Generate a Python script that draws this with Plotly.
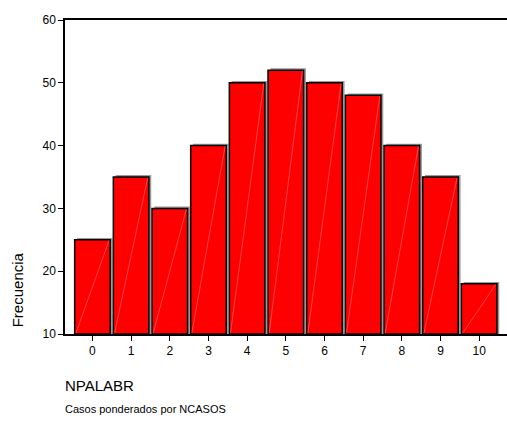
import plotly.graph_objects as go

# Word count per case (NPALABR) and weighted frequencies
categorias = [0, 1, 2, 3, 4, 5, 6, 7, 8, 9, 10]
frecuencias = [25, 35, 30, 40, 50, 52, 50, 48, 40, 35, 18]
etiquetas_x = [str(c) for c in categorias]
ticks_y = [10, 20, 30, 40, 50, 60]

base = 10
ancho = 0.92
FUENTE = "Liberation Sans, Arial, sans-serif"

fig = go.Figure()

# gray drop shadow behind each bar
fig.add_trace(go.Bar(
    x=categorias,
    y=[v - base + 0.3 for v in frecuencias],
    base=base,
    width=ancho,
    offset=-ancho / 2 + 0.06,
    marker=dict(color="#9a9a9a", line=dict(width=0)),
    hoverinfo="skip",
    showlegend=False,
))

# red bars with black outline
fig.add_trace(go.Bar(
    x=categorias,
    y=[v - base for v in frecuencias],
    base=base,
    width=ancho,
    offset=-ancho / 2,
    marker=dict(color="#ff0000", line=dict(color="black", width=1.5)),
    showlegend=False,
))

# faint diagonal hatch inside each bar (corner to corner)
hx, hy = [], []
for c, v in zip(categorias, frecuencias):
    hx += [c - ancho / 2 + 0.03, c + ancho / 2 - 0.03, None]
    hy += [base + 0.1, v - 0.1, None]
fig.add_trace(go.Scatter(
    x=hx, y=hy, mode="lines",
    line=dict(color="rgba(255,170,170,0.4)", width=1),
    hoverinfo="skip", showlegend=False,
))

fig.update_layout(
    width=507, height=426,
    margin=dict(l=65, r=0, t=20, b=92),
    plot_bgcolor="white", paper_bgcolor="white",
    barmode="overlay",
    font=dict(family=FUENTE, color="black", size=12),
    xaxis=dict(
        range=[-0.71, 10.72],
        tickmode="array", tickvals=categorias, ticktext=etiquetas_x,
        showline=True, linecolor="black", linewidth=1.5, mirror=True,
        ticks="outside", ticklen=5, tickcolor="black", tickwidth=1,
        showgrid=False, zeroline=False,
        tickfont=dict(size=12, family=FUENTE, color="black"),
    ),
    yaxis=dict(
        range=[10, 60],
        tickmode="array", tickvals=ticks_y,
        showline=True, linecolor="black", linewidth=1.5,
        ticks="outside", ticklen=5, tickcolor="black", tickwidth=1,
        showgrid=False, zeroline=False,
        tickfont=dict(size=12, family=FUENTE, color="black"),
    ),
    annotations=[
        dict(text="Frecuencia", xref="paper", yref="paper",
             x=-0.108, y=0.14, textangle=-90, showarrow=False,
             xanchor="center", yanchor="middle",
             font=dict(size=15, family=FUENTE, color="black")),
        dict(text="NPALABR", xref="paper", yref="paper",
             x=-0.005, y=-0.165, showarrow=False,
             xanchor="left", yanchor="middle",
             font=dict(size=15, family=FUENTE, color="black")),
        dict(text="Casos ponderados por NCASOS", xref="paper", yref="paper",
             x=-0.005, y=-0.24, showarrow=False,
             xanchor="left", yanchor="middle",
             font=dict(size=11, family=FUENTE, color="black")),
    ],
)

fig.write_html("out.html")
